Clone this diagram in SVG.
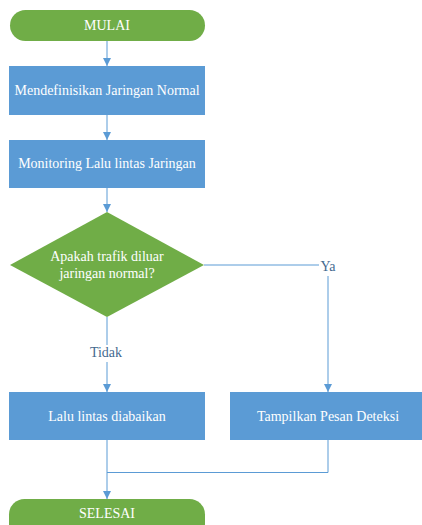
<svg xmlns="http://www.w3.org/2000/svg" width="422" height="525" viewBox="0 0 422 525">
  <style>
    .term { fill: #70AD47; }
    .proc { fill: #5B9BD5; }
    .dec { fill: #70AD47; }
    text { font-family: 'Liberation Serif', 'Times New Roman', 'DejaVu Serif', serif; font-size: 14px; }
    .lbl { fill: #ffffff; text-anchor: middle; }
    .edge { fill: #44698F; text-anchor: middle; }
    .conn { fill: none; stroke: #5B9BD5; stroke-width: 1; }
  </style>
  <defs>
    <marker id="arrow" viewBox="0 0 8 8" refX="8" refY="4" markerWidth="8" markerHeight="8" markerUnits="userSpaceOnUse" orient="auto">
      <path d="M0,0 L8,4 L0,8 Z" fill="#5B9BD5"/>
    </marker>
  </defs>
  <rect width="422" height="525" fill="#ffffff"/>

  <g id="connectors">
    <line class="conn" x1="107" y1="41" x2="107" y2="66" marker-end="url(#arrow)"/>
    <line class="conn" x1="107" y1="115" x2="107" y2="140" marker-end="url(#arrow)"/>
    <line class="conn" x1="107" y1="188" x2="107" y2="212" marker-end="url(#arrow)"/>
    <polyline class="conn" points="204,265 319,265"/>
    <line class="conn" x1="328" y1="276" x2="328" y2="392" marker-end="url(#arrow)"/>
    <line class="conn" x1="107" y1="317" x2="107" y2="345"/>
    <line class="conn" x1="107" y1="362" x2="107" y2="392" marker-end="url(#arrow)"/>
    <line class="conn" x1="107" y1="440" x2="107" y2="499" marker-end="url(#arrow)"/>
    <polyline class="conn" points="328,440 328,472.5 107,472.5"/>
    <text class="edge" x="328" y="271">Ya</text>
    <text class="edge" x="106" y="357">Tidak</text>
  </g>

  <g id="start">
    <rect class="term" x="10" y="10" width="195" height="31" rx="15.5"/>
    <text class="lbl" x="107" y="30">MULAI</text>
  </g>

  <g id="define">
    <rect class="proc" x="9" y="66" width="196" height="49"/>
    <text class="lbl" x="107" y="95">Mendefinisikan Jaringan Normal</text>
  </g>

  <g id="monitor">
    <rect class="proc" x="9" y="140" width="196" height="48"/>
    <text class="lbl" x="107" y="168">Monitoring Lalu lintas Jaringan</text>
  </g>

  <g id="decision">
    <polygon class="dec" points="107,212 204,265 107,317 10,265"/>
    <text class="lbl" x="107" y="261">Apakah trafik diluar</text>
    <text class="lbl" x="107" y="278">jaringan normal?</text>
  </g>

  <g id="ignore">
    <rect class="proc" x="9" y="392" width="196" height="48"/>
    <text class="lbl" x="107" y="421">Lalu lintas diabaikan</text>
  </g>

  <g id="alert">
    <rect class="proc" x="230" y="392" width="192" height="48"/>
    <text class="lbl" x="328" y="421">Tampilkan Pesan Deteksi</text>
  </g>

  <g id="end">
    <rect class="term" x="9" y="499" width="196" height="40" rx="15.5"/>
    <text class="lbl" x="107" y="518">SELESAI</text>
  </g>
</svg>
